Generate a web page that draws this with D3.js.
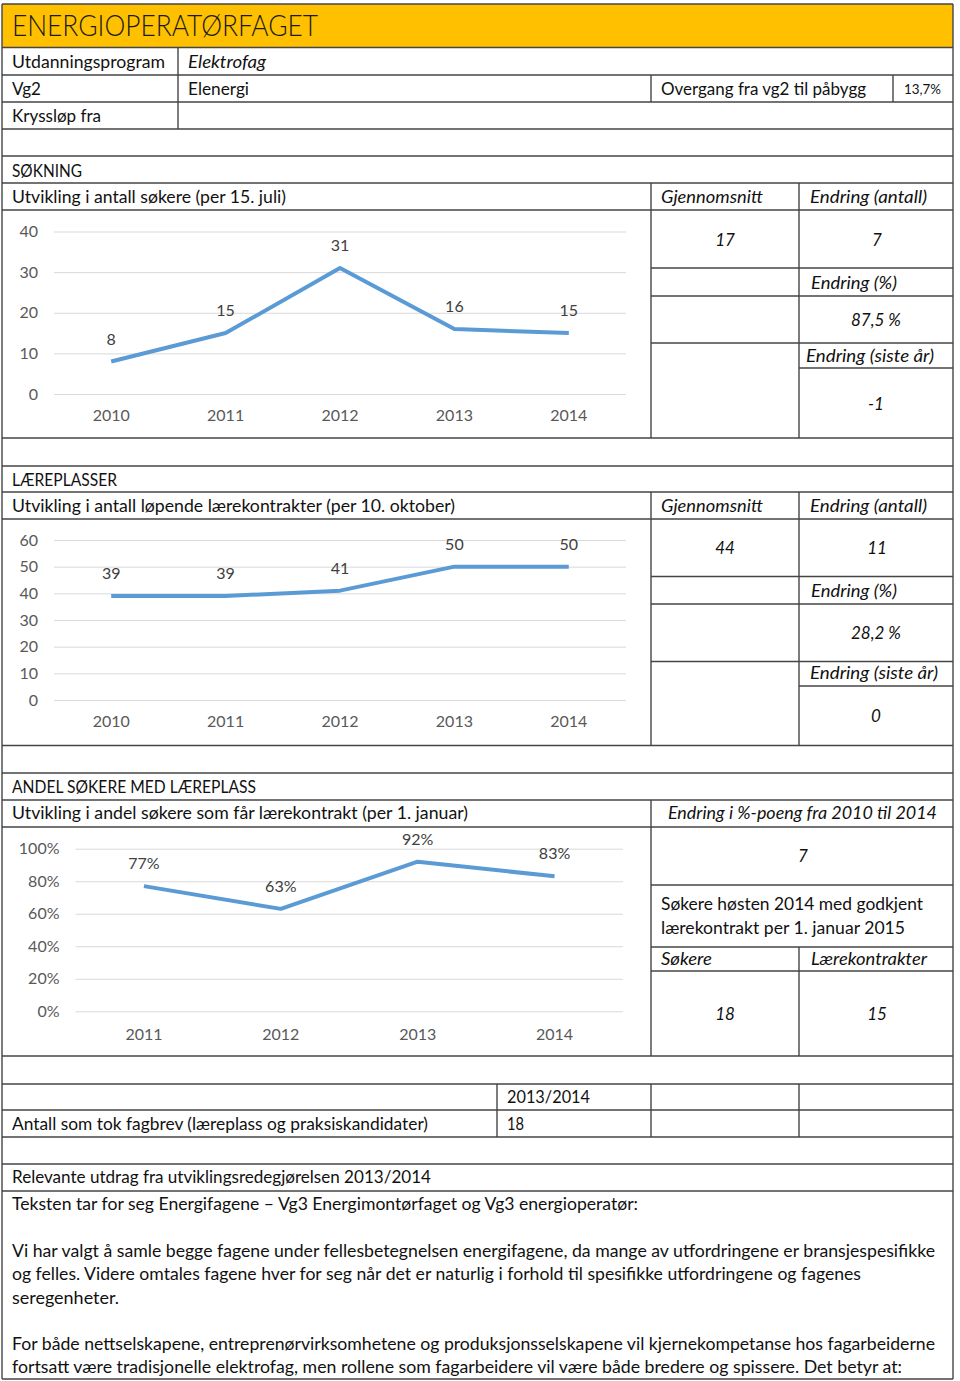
<!DOCTYPE html>
<html><head><meta charset="utf-8">
<script src="https://cdn.jsdelivr.net/npm/d3@7"></script>
<style>
html,body{margin:0;padding:0;background:#fff;}
text{font-family:Lato,"Open Sans","DejaVu Sans",sans-serif;}
</style></head>
<body><svg id="c" width="960" height="1381"></svg>
<script>
// ---- data ----
const years1 = ["2010","2011","2012","2013","2014"];
const sokere = [8,15,31,16,15];
const ticks1 = [0,10,20,30,40];
const years2 = ["2010","2011","2012","2013","2014"];
const kontrakter = [39,39,41,50,50];
const ticks2 = [0,10,20,30,40,50,60];
const years3 = ["2011","2012","2013","2014"];
const andel = [0.77,0.63,0.92,0.83];
const ticks3 = [0,0.2,0.4,0.6,0.8,1.0];
const soknStats = ["17","7","87,5 %","-1"];
const laerStats = ["44","11","28,2 %","0"];
const andelStats = ["7","18","15"];

const svg = d3.select("#c");
const LINE = "#454545";

function t(x,y,s,o={}){
  const e = svg.append("text").attr("x",x).attr("y",y).text(s)
    .attr("font-size",o.size||17).attr("fill",o.fill||"#111");
  if(o.italic) e.attr("font-style","italic");
  if(o.anchor) e.attr("text-anchor",o.anchor);
  if(o.w) e.attr("textLength",o.w).attr("lengthAdjust","spacingAndGlyphs");
  if(o.weight) e.attr("font-weight",o.weight);
  return e;
}
function h(x1,x2,y){svg.append("line").attr("x1",x1).attr("x2",x2).attr("y1",y).attr("y2",y).attr("stroke",LINE).attr("stroke-width",1.4);}
function v(x,y1,y2){svg.append("line").attr("x1",x).attr("x2",x).attr("y1",y1).attr("y2",y2).attr("stroke",LINE).attr("stroke-width",1.4);}

// header
svg.append("rect").attr("x",2).attr("y",4).attr("width",951).attr("height",43.5).attr("fill","#FFC000");
t(12,36,"ENERGIOPERATØRFAGET",{size:29,w:306,fill:"#1a1a1a",weight:300});

// table lines
const L=2,R=953;
[4,47.5,75,102,129,156,183,210,438,466,492,519,745.5,773,800,827,1056,1084,1110,1137,1164,1191,1379].forEach(y=>h(L,R,y));
[268,296,343].forEach(y=>h(651,R,y));
h(799,R,368);
[576.5,604,661.5].forEach(y=>h(651,R,y));
h(799,R,686);
[885,947,971].forEach(y=>h(651,R,y));
v(L,4,1379); v(R,4,1379);
v(178,47.5,129);
v(651,75,102); v(893,75,102);
v(651,183,438); v(799,183,438);
v(651,492,745.5); v(799,492,745.5);
v(651,800,1056); v(799,947,1056);
v(497,1084,1137); v(651,1084,1137); v(799,1084,1137);

// top rows
t(12,68,"Utdanningsprogram",{w:153});
t(188,68,"Elektrofag",{italic:true,w:78});
t(12,95,"Vg2",{w:29});
t(188,95,"Elenergi",{w:61});
t(661,95,"Overgang fra vg2 til påbygg",{w:205});
t(904,94,"13,7%",{size:13,w:37});
t(12,122,"Kryssløp fra",{w:89});

// section 1
t(12,177,"SØKNING",{w:70});
t(12,203,"Utvikling i antall søkere (per 15. juli)",{w:274});
t(661,203,"Gjennomsnitt",{italic:true,w:102});
t(810,203,"Endring (antall)",{italic:true,w:117});
t(725,246,soknStats[0],{italic:true,anchor:"middle"});
t(877,246,soknStats[1],{italic:true,anchor:"middle"});
t(811,289,"Endring (%)",{italic:true,w:86});
t(876,326,soknStats[2],{italic:true,anchor:"middle"});
t(806,362,"Endring (siste år)",{italic:true,w:128});
t(876,410,soknStats[3],{italic:true,anchor:"middle"});

// section 2
t(12,486,"LÆREPLASSER",{w:105});
t(12,512,"Utvikling i antall løpende lærekontrakter (per 10. oktober)",{w:443});
t(661,512,"Gjennomsnitt",{italic:true,w:102});
t(810,512,"Endring (antall)",{italic:true,w:117});
t(725,554,laerStats[0],{italic:true,anchor:"middle"});
t(877,554,laerStats[1],{italic:true,anchor:"middle"});
t(811,597,"Endring (%)",{italic:true,w:86});
t(876,639,laerStats[2],{italic:true,anchor:"middle"});
t(810,679,"Endring (siste år)",{italic:true,w:128});
t(876,722,laerStats[3],{italic:true,anchor:"middle"});

// section 3
t(12,793,"ANDEL SØKERE MED LÆREPLASS",{w:244});
t(12,819,"Utvikling i andel søkere som får lærekontrakt (per 1. januar)",{w:456});
t(668,819,"Endring i %-poeng fra 2010 til 2014",{italic:true,w:269});
t(803,862,andelStats[0],{italic:true,anchor:"middle"});
t(661,910,"Søkere høsten 2014 med godkjent",{w:262});
t(661,934,"lærekontrakt per 1. januar 2015",{w:244});
t(661,965,"Søkere",{italic:true,w:51});
t(811,965,"Lærekontrakter",{italic:true,w:116});
t(725,1020,andelStats[1],{italic:true,anchor:"middle"});
t(877,1020,andelStats[2],{italic:true,anchor:"middle"});

// fagbrev
t(507,1103,"2013/2014",{w:83});
t(12,1130,"Antall som tok fagbrev (læreplass og praksiskandidater)",{w:416});
t(507,1130,"18",{w:17});
t(12,1183,"Relevante utdrag fra utviklingsredegjørelsen 2013/2014",{w:419});
t(12,1210,"Teksten tar for seg Energifagene – Vg3 Energimontørfaget og Vg3 energioperatør:",{w:626});
t(12,1257,"Vi har valgt å samle begge fagene under fellesbetegnelsen energifagene, da mange av utfordringene er bransjespesifikke",{w:923});
t(12,1280,"og felles. Videre omtales fagene hver for seg når det er naturlig i forhold til spesifikke utfordringene og fagenes",{w:849});
t(12,1304,"seregenheter.",{w:107});
t(12,1350,"For både nettselskapene, entreprenørvirksomhetene og produksjonsselskapene vil kjernekompetanse hos fagarbeiderne",{w:923});
t(12,1373,"fortsatt være tradisjonelle elektrofag, men rollene som fagarbeidere vil være både bredere og spissere. Det betyr at:",{w:890});

// charts
function chart(cfg){
  const x = d3.scaleBand().domain(cfg.cats).range([cfg.x0,cfg.x1]);
  const y = d3.scaleLinear().domain(cfg.dom).range([cfg.y0,cfg.y1]);
  const g = svg.append("g");
  const ya = g.append("g").attr("transform",`translate(${cfg.x0},0)`)
    .call(d3.axisLeft(y).tickValues(cfg.ticks).tickSize(-(cfg.x1-cfg.x0)).tickPadding(16).tickFormat(cfg.fmt));
  ya.select(".domain").remove();
  ya.selectAll(".tick line").attr("stroke","#D9D9D9").attr("stroke-width",1);
  ya.selectAll(".tick text").attr("font-size",16).attr("fill","#595959").attr("font-family","Lato");
  const xa = g.append("g").attr("transform",`translate(0,${cfg.y0})`)
    .call(d3.axisBottom(x).tickSize(0).tickPadding(cfg.xpad));
  xa.select(".domain").remove();
  xa.selectAll(".tick text").attr("font-size",16).attr("fill","#595959").attr("font-family","Lato");
  const pts = cfg.cats.map((c,i)=>[x(c)+x.bandwidth()/2, y(cfg.vals[i])]);
  g.append("path").attr("d",d3.line()(pts)).attr("fill","none").attr("stroke","#5B9BD5")
    .attr("stroke-width",4).attr("stroke-linejoin","round");
  g.selectAll(".lbl").data(cfg.vals).enter().append("text")
    .attr("x",(d,i)=>pts[i][0]).attr("y",(d,i)=>pts[i][1]-17)
    .attr("text-anchor","middle").attr("font-size",16).attr("fill","#404040")
    .text(d=>cfg.lfmt(d));
}
chart({cats:years1,vals:sokere,dom:[0,40],ticks:ticks1,x0:54,x1:626,y0:394,y1:231.5,xpad:16,fmt:d3.format("d"),lfmt:d3.format("d")});
chart({cats:years2,vals:kontrakter,dom:[0,60],ticks:ticks2,x0:54,x1:626,y0:700,y1:540,xpad:16,fmt:d3.format("d"),lfmt:d3.format("d")});
chart({cats:years3,vals:andel,dom:[0,1],ticks:ticks3,x0:75.5,x1:623,y0:1011.3,y1:848.7,xpad:17,fmt:d3.format(".0%"),lfmt:d3.format(".0%")});
</script></body></html>
